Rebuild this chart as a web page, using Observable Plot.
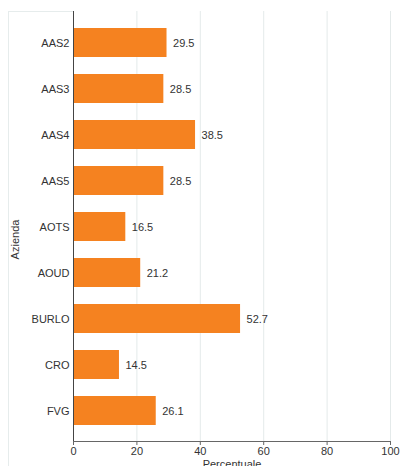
<!DOCTYPE html>
<html>
<head>
<meta charset="utf-8">
<script src="https://cdn.jsdelivr.net/npm/d3@7"></script>
<script src="https://cdn.jsdelivr.net/npm/@observablehq/plot@0.6"></script>
<style>
  html, body { margin: 0; padding: 0; background: #fff; }
  #wrap { position: relative; width: 401px; height: 466px; overflow: hidden; }
  #box { position: absolute; left: 8px; top: 11px; width: 65px; height: 460px;
         border-left: 1px solid #e6ecec; border-top: 1px solid #e6ecec; }
  #chart { position: absolute; left: 0; top: 0; }
</style>
</head>
<body>
<div id="wrap"><div id="box"></div><div id="chart"></div></div>
<script>
const categories = ["AAS2", "AAS3", "AAS4", "AAS5", "AOTS", "AOUD", "BURLO", "CRO", "FVG"];
const values = [29.5, 28.5, 38.5, 28.5, 16.5, 21.2, 52.7, 14.5, 26.1];
const xTicks = [0, 20, 40, 60, 80, 100];
const xLabel = "Percentuale";
const yLabel = "Azienda";

const data = categories.map((c, i) => ({azienda: c, valore: values[i]}));

const chart = Plot.plot({
  width: 401,
  height: 466,
  marginTop: 11,
  marginBottom: 25,
  marginLeft: 73,
  marginRight: 11,
  style: {fontFamily: "'Liberation Sans', Arial, sans-serif", fontSize: "11px", color: "#333", background: "transparent"},
  x: {domain: [0, 100]},
  y: {domain: categories, paddingInner: 0.37, paddingOuter: 0.33},
  marks: [
    Plot.gridX(xTicks, {stroke: "#e4eaea", strokeOpacity: 1}),
    Plot.barX(data, {x: "valore", y: "azienda", fill: "#f58220"}),
    Plot.text(data, {x: "valore", y: "azienda", text: d => d.valore.toFixed(1), dx: 6, textAnchor: "start", fill: "#333", fontSize: 11}),
    Plot.ruleX([0], {stroke: "#444"}),
    Plot.frame({anchor: "bottom", stroke: "#666"}),
    Plot.axisX({ticks: xTicks, tickSize: 4, tickPadding: 2, stroke: "#666", fill: "#333", fontSize: 11,
      label: xLabel, labelAnchor: "center", labelOffset: 26, labelArrow: "none"}),
    Plot.axisY({tickSize: 0, tickPadding: 4, fill: "#333", fontSize: 11, label: null}),
    Plot.text([yLabel], {frameAnchor: "left", text: d => d, rotate: -90, dx: -58, dy: 13,
      textAnchor: "middle", lineAnchor: "middle", fill: "#333", fontSize: 11})
  ]
});
document.getElementById("chart").appendChild(chart);
</script>
</body>
</html>
